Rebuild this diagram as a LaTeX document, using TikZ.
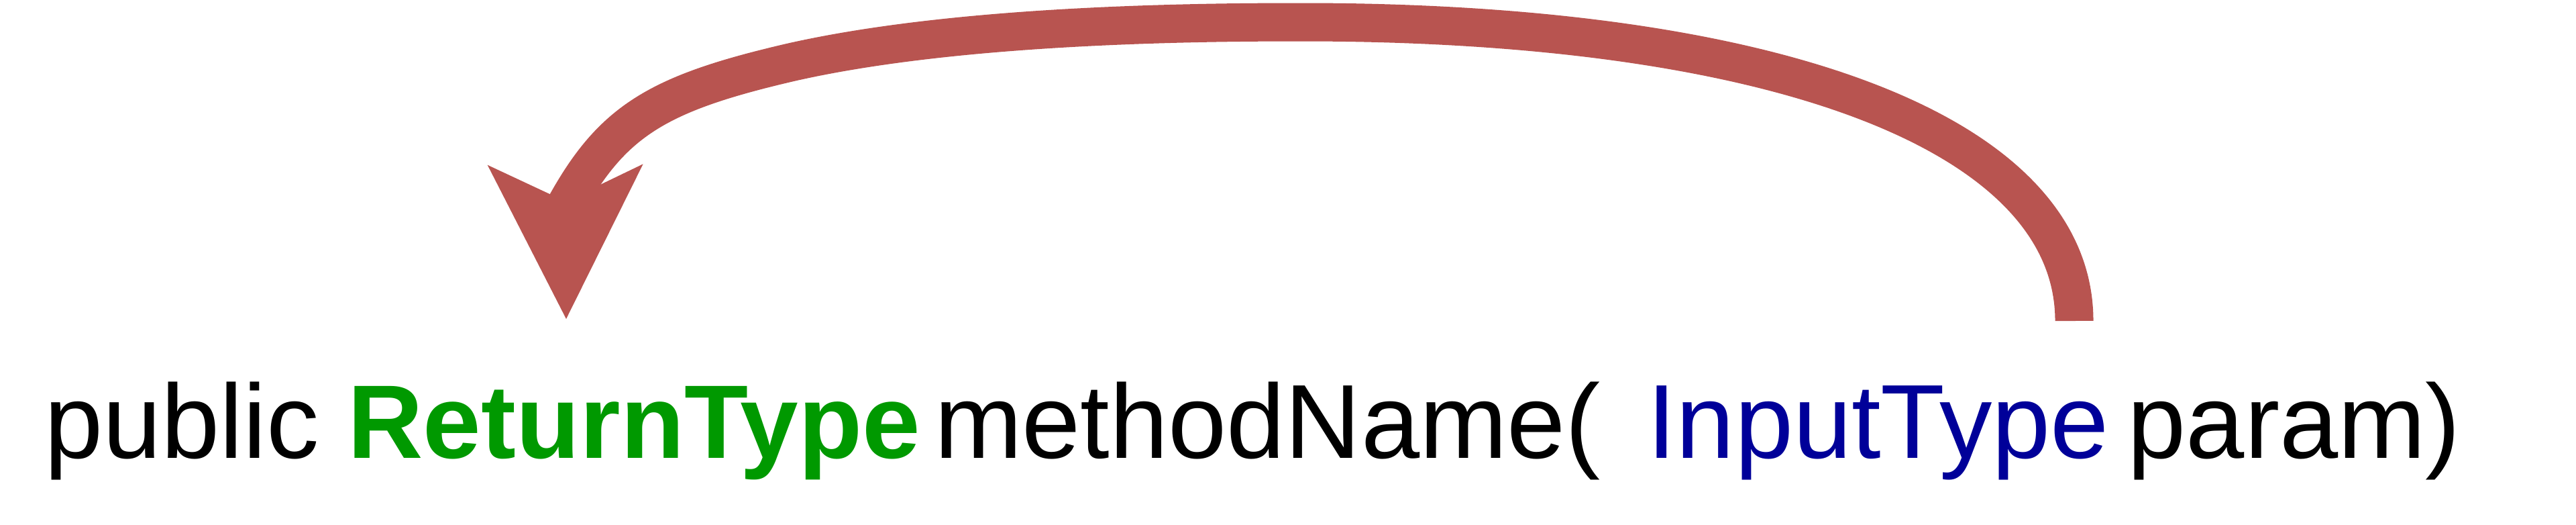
\documentclass[tikz,border=0pt]{standalone}
\usepackage{fontspec}
\setmainfont{Liberation Sans}
\usetikzlibrary{arrows.meta,positioning}
\definecolor{arrowred}{HTML}{B85450}
\definecolor{rettype}{HTML}{009900}
\definecolor{intype}{HTML}{000099}
\newcommand{\codefont}{\fontsize{44.6pt}{52pt}\selectfont}
\newcommand{\retfont}{\fontsize{44.3pt}{52pt}\selectfont\bfseries}
\tikzset{
  word/.style={inner sep=0pt, outer sep=0pt, font=\codefont},
  flow/.style={draw=arrowred, line width=0.57cm},
  flowhead/.style={draw=arrowred, line width=1pt,
    -{Stealth[length=2.3cm, width=2.32cm, inset=0.55cm, line width=0pt]}}
}
\begin{document}
\begin{tikzpicture}
\useasboundingbox (0,0) rectangle (38.4,7.81);
\node [word, anchor=base west] (pub) at (0.66,0.99) {public};
\node [word, base right=0.43cm of pub, text=rettype, font=\retfont] (ret) {ReturnType};
\node [word, base right=0.21cm of ret] (meth) {methodName(};
\node [word, base right=0.69cm of meth, text=intype] (inp) {InputType};
\node [word, base right=0.28cm of inp] (par) {param)};
\coordinate (tail) at (30.92,3.03);
\coordinate (peak) at (19.40,7.48);
\coordinate (bend) at (11.78,6.88);
\coordinate (neck) at (8.43,4.75);
\coordinate (tip) at (8.44,3.06);
\draw [flow] (tail) .. controls (30.92,5.80) and (26.54,7.48) .. (peak)
  .. controls (17.60,7.48) and (14.20,7.43) .. (bend)
  .. controls (9.80,6.42) and (9.13,6.01) .. (neck);
\draw [flowhead] (neck) -- (tip);
\end{tikzpicture}
\end{document}
